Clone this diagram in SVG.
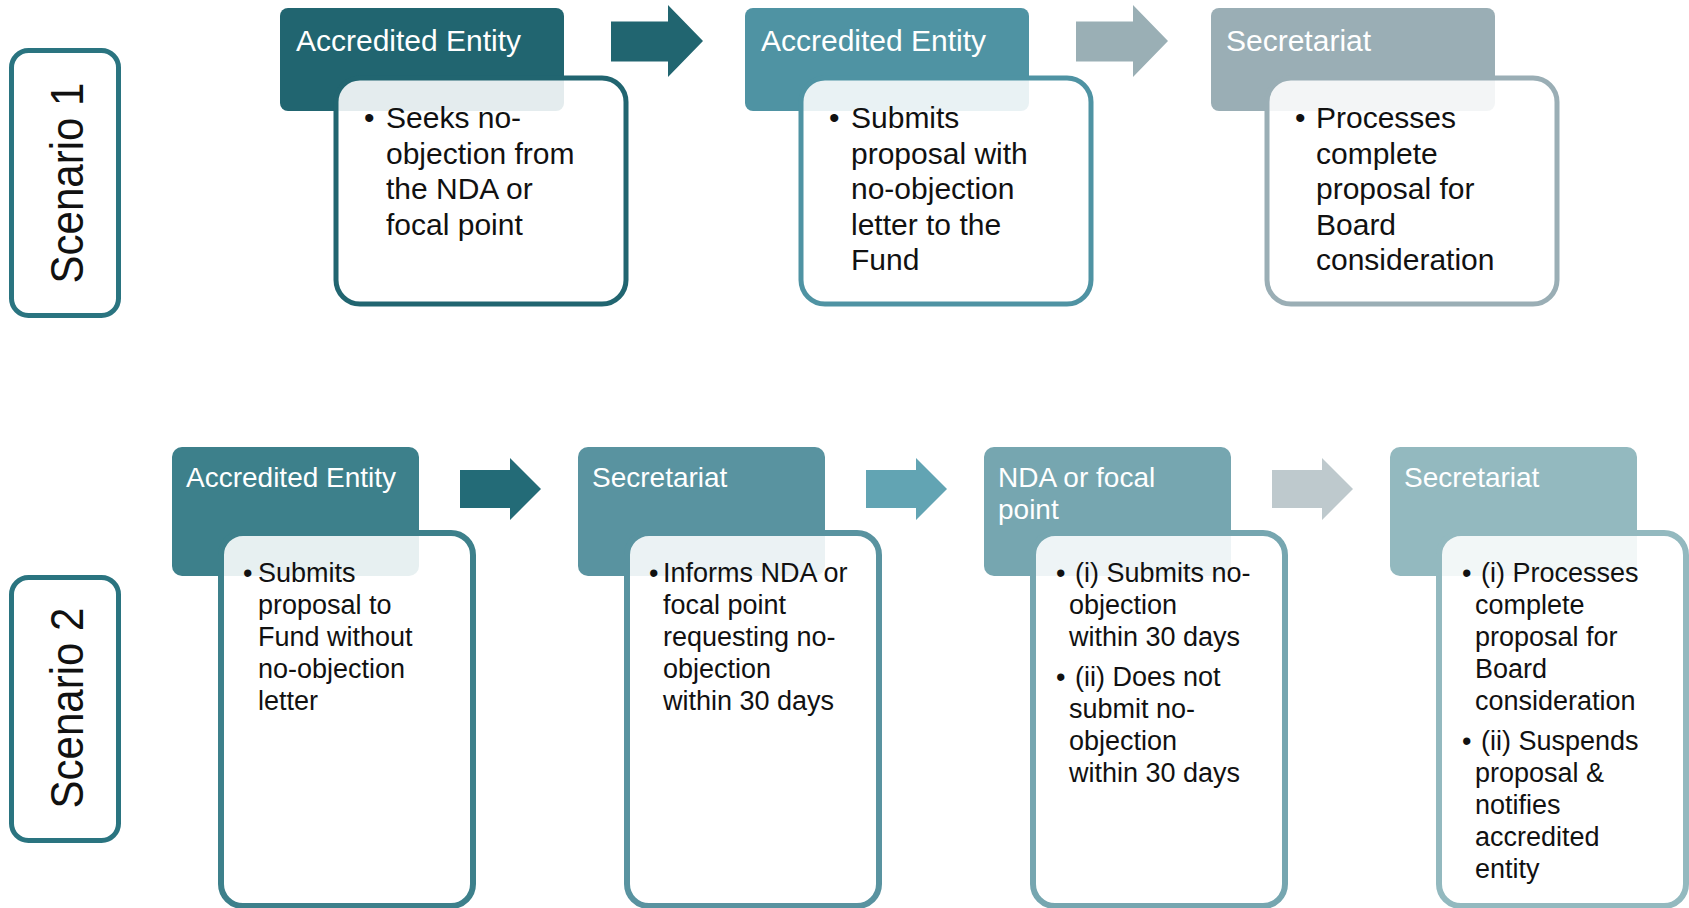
<svg xmlns="http://www.w3.org/2000/svg" width="1689" height="908" viewBox="0 0 1689 908">
<style>
  .scen{fill:#fff;stroke:#2a7480;stroke-width:5}
  .scent{font-family:"Liberation Sans",Arial,sans-serif;font-size:46px;fill:#111}
  .hdr{stroke:none}
  .body{fill:#fff;fill-opacity:0.88}
  .b1{stroke-width:5}
  .b2{stroke-width:6}
  .ht1{font-family:"Liberation Sans",Arial,sans-serif;font-size:30px;fill:#fff}
  .ht2{font-family:"Liberation Sans",Arial,sans-serif;font-size:28px;fill:#fff}
  .bt1{font-family:"Liberation Sans",Arial,sans-serif;font-size:30px;fill:#111}
  .bt2{font-family:"Liberation Sans",Arial,sans-serif;font-size:27px;fill:#111}
</style>
<rect width="1689" height="908" fill="#fff"/>

<g id="scenario1">
  <rect class="scen" x="11.5" y="50.5" width="107" height="265" rx="17"/>
  <text class="scent" x="83" y="183" text-anchor="middle" transform="rotate(-90 83 183)" textLength="201" lengthAdjust="spacingAndGlyphs">Scenario 1</text>
</g>
<g id="scenario2">
  <rect class="scen" x="11.5" y="577.5" width="107" height="263" rx="17"/>
  <text class="scent" x="83" y="708" text-anchor="middle" transform="rotate(-90 83 708)" textLength="201" lengthAdjust="spacingAndGlyphs">Scenario 2</text>
</g>

<g id="connectors">
  <polygon points="611,21.5 668,21.5 668,5 703,41 668,77 668,61.5 611,61.5" fill="#216570"/>
  <polygon points="1076,21.5 1133,21.5 1133,5 1168,41 1133,77 1133,61.5 1076,61.5" fill="#9aafb5"/>
  <polygon points="460,470 510,470 510,458 541,489 510,520 510,508 460,508" fill="#236b77"/>
  <polygon points="866,470 916,470 916,458 947,489 916,520 916,508 866,508" fill="#62a4b3"/>
  <polygon points="1272,470 1322,470 1322,458 1353,489 1322,520 1322,508 1272,508" fill="#bec9cd"/>
</g>

<g id="s1-accredited-entity">
  <rect class="hdr" x="280" y="8" width="284" height="103" rx="8" fill="#216570"/>
  <text class="ht1" x="296" y="51">Accredited Entity</text>
  <rect class="body b1" x="336" y="78" width="290" height="226" rx="24" stroke="#216570"/>
  <text class="bt1"><tspan x="364" y="128">•</tspan><tspan x="386" y="128">Seeks no-</tspan><tspan x="386" y="163.5">objection from</tspan><tspan x="386" y="199">the NDA or</tspan><tspan x="386" y="234.5">focal point</tspan></text>
</g>

<g id="s1-accredited-entity-2">
  <rect class="hdr" x="745" y="8" width="284" height="103" rx="8" fill="#4f93a3"/>
  <text class="ht1" x="761" y="51">Accredited Entity</text>
  <rect class="body b1" x="801" y="78" width="290" height="226" rx="24" stroke="#4f93a3"/>
  <text class="bt1"><tspan x="829" y="128">•</tspan><tspan x="851" y="128">Submits</tspan><tspan x="851" y="163.5">proposal with</tspan><tspan x="851" y="199">no-objection</tspan><tspan x="851" y="234.5">letter to the</tspan><tspan x="851" y="270">Fund</tspan></text>
</g>

<g id="s1-secretariat">
  <rect class="hdr" x="1211" y="8" width="284" height="103" rx="8" fill="#9aaeb5"/>
  <text class="ht1" x="1226" y="51">Secretariat</text>
  <rect class="body b1" x="1267" y="78" width="290" height="226" rx="24" stroke="#9aaeb5"/>
  <text class="bt1"><tspan x="1295" y="128">•</tspan><tspan x="1316" y="128">Processes</tspan><tspan x="1316" y="163.5">complete</tspan><tspan x="1316" y="199">proposal for</tspan><tspan x="1316" y="234.5">Board</tspan><tspan x="1316" y="270">consideration</tspan></text>
</g>

<g id="s2-accredited-entity">
  <rect class="hdr" x="172" y="447" width="247" height="129" rx="10" fill="#3d808b"/>
  <text class="ht2" x="186" y="487">Accredited Entity</text>
  <rect class="body b2" x="221" y="533" width="252" height="373" rx="22" stroke="#3d808b"/>
  <text class="bt2"><tspan x="243" y="582">•</tspan><tspan x="258" y="582">Submits</tspan><tspan x="258" y="614">proposal to</tspan><tspan x="258" y="646">Fund without</tspan><tspan x="258" y="678">no-objection</tspan><tspan x="258" y="710">letter</tspan></text>
</g>

<g id="s2-secretariat">
  <rect class="hdr" x="578" y="447" width="247" height="129" rx="10" fill="#5993a0"/>
  <text class="ht2" x="592" y="487">Secretariat</text>
  <rect class="body b2" x="627" y="533" width="252" height="373" rx="22" stroke="#5993a0"/>
  <text class="bt2"><tspan x="649" y="582">•</tspan><tspan x="663" y="582">Informs NDA or</tspan><tspan x="663" y="614">focal point</tspan><tspan x="663" y="646">requesting no-</tspan><tspan x="663" y="678">objection</tspan><tspan x="663" y="710">within 30 days</tspan></text>
</g>

<g id="s2-nda-focal-point">
  <rect class="hdr" x="984" y="447" width="247" height="129" rx="10" fill="#76a6b0"/>
  <text class="ht2"><tspan x="998" y="487">NDA or focal</tspan><tspan x="998" y="519">point</tspan></text>
  <rect class="body b2" x="1033" y="533" width="252" height="373" rx="22" stroke="#76a6b0"/>
  <text class="bt2"><tspan x="1056" y="582">•</tspan><tspan x="1075" y="582">(i) Submits no-</tspan><tspan x="1069" y="614">objection</tspan><tspan x="1069" y="646">within 30 days</tspan><tspan x="1056" y="686">•</tspan><tspan x="1075" y="686">(ii) Does not</tspan><tspan x="1069" y="718">submit no-</tspan><tspan x="1069" y="750">objection</tspan><tspan x="1069" y="782">within 30 days</tspan></text>
</g>

<g id="s2-secretariat-2">
  <rect class="hdr" x="1390" y="447" width="247" height="129" rx="10" fill="#93b9bf"/>
  <text class="ht2" x="1404" y="487">Secretariat</text>
  <rect class="body b2" x="1439" y="533" width="247" height="373" rx="22" stroke="#93b9bf"/>
  <text class="bt2"><tspan x="1462" y="582">•</tspan><tspan x="1481" y="582">(i) Processes</tspan><tspan x="1475" y="614">complete</tspan><tspan x="1475" y="646">proposal for</tspan><tspan x="1475" y="678">Board</tspan><tspan x="1475" y="710">consideration</tspan><tspan x="1462" y="750">•</tspan><tspan x="1481" y="750">(ii) Suspends</tspan><tspan x="1475" y="782">proposal &amp;</tspan><tspan x="1475" y="814">notifies</tspan><tspan x="1475" y="846">accredited</tspan><tspan x="1475" y="878">entity</tspan></text>
</g>
</svg>
